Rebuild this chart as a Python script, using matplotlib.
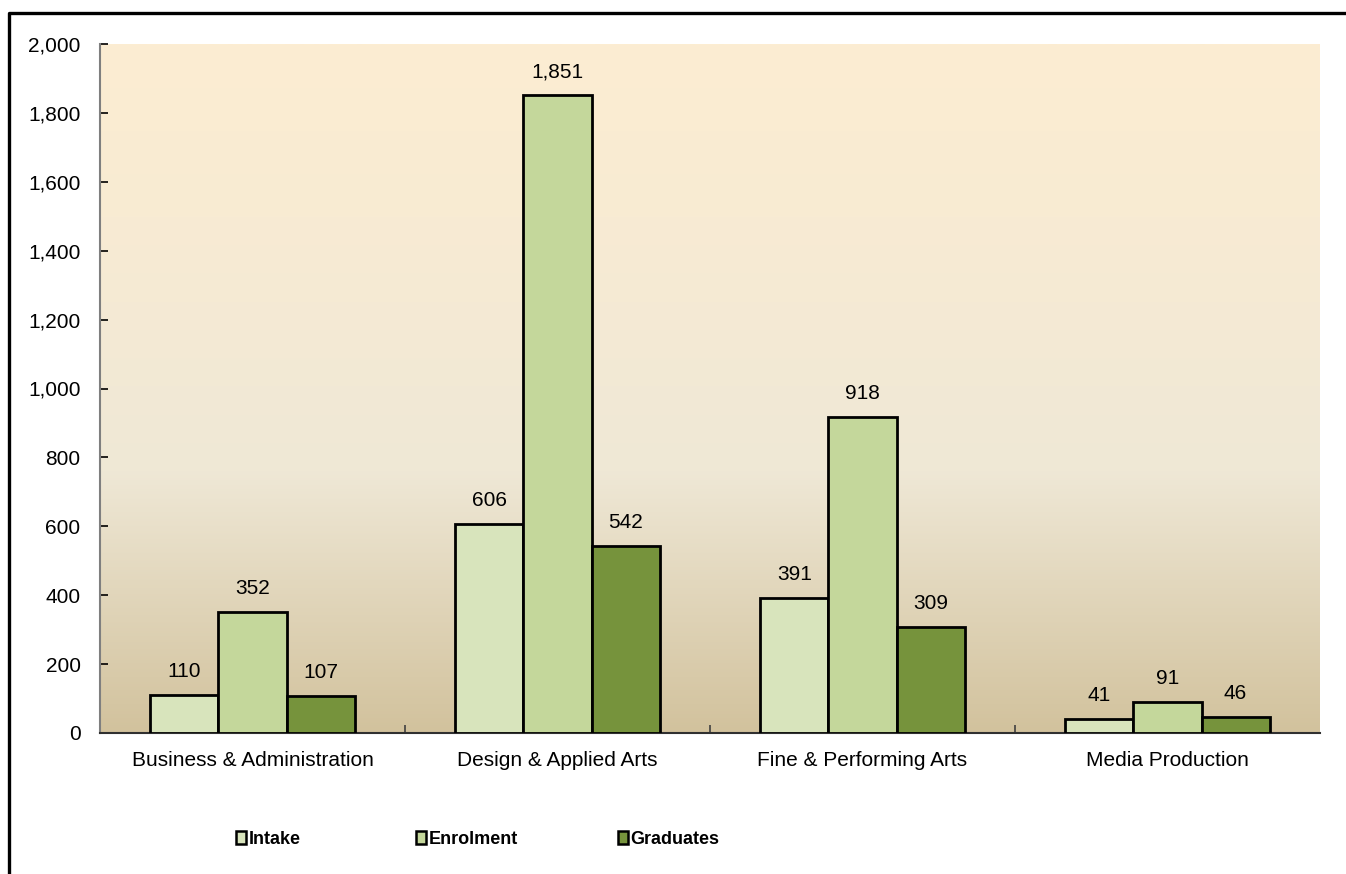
import numpy as np
import matplotlib
matplotlib.use("Agg")
import matplotlib.pyplot as plt
from matplotlib.patches import Patch
from matplotlib.lines import Line2D
from matplotlib.colors import LinearSegmentedColormap
from matplotlib.ticker import FuncFormatter, MultipleLocator

categories = ["Business & Administration", "Design & Applied Arts",
              "Fine & Performing Arts", "Media Production"]
series_names = ["Intake", "Enrolment", "Graduates"]
intake = [110, 606, 391, 41]
enrolment = [352, 1851, 918, 91]
graduates = [107, 542, 309, 46]
series_colors = ["#D8E4BC", "#C4D79B", "#76933C"]

plt.rcParams["font.family"] = ["Liberation Sans", "DejaVu Sans"]

fig = plt.figure(figsize=(13.46, 8.74), dpi=100)
ax = fig.add_axes([100 / 1346, 1 - 733 / 874, 1220 / 1346, 689 / 874])

# warm vertical gradient behind the plot area
grad_cmap = LinearSegmentedColormap.from_list(
    "warm", [(0.0, "#D2C29D"), (0.38, "#EFE8D6"), (0.75, "#F8EBD3"), (1.0, "#FCEDD2")])
ax.imshow(np.linspace(0, 1, 256).reshape(-1, 1), cmap=grad_cmap, origin="lower",
          extent=[-0.5, len(categories) - 0.5, 0, 2000], aspect="auto", zorder=0)

x = np.arange(len(categories))
width = 0.223
all_series = [intake, enrolment, graduates]
for i, (vals, col, name) in enumerate(zip(all_series, series_colors, series_names)):
    pos = x + (i - 1) * width
    bars = ax.bar(pos, vals, width, color=col, edgecolor="black", linewidth=2.0,
                  label=name, zorder=3)
    for b, v in zip(bars, vals):
        ax.annotate(f"{v:,}", (b.get_x() + b.get_width() / 2, v),
                    xytext=(0, 10), textcoords="offset points",
                    ha="center", va="bottom", fontsize=15)

ax.set_xlim(-0.5, len(categories) - 0.5)
ax.set_ylim(0, 2000)
ax.yaxis.set_major_locator(MultipleLocator(200))
ax.yaxis.set_major_formatter(FuncFormatter(lambda v, p: f"{int(v):,}"))
ax.tick_params(axis="y", direction="in", length=6, width=1.2, labelsize=15, pad=14)

# category labels centred, tick marks on category boundaries
ax.set_xticks(x)
ax.set_xticklabels(categories, fontsize=15)
ax.tick_params(axis="x", which="major", length=0, pad=13)
ax.set_xticks(np.arange(0.5, len(categories) - 0.5, 1.0), minor=True)
ax.tick_params(axis="x", which="minor", direction="in", length=6, width=1.2,
               color="#404040")

for s in ["top", "right"]:
    ax.spines[s].set_visible(False)
ax.spines["left"].set_color("#7F7F7F")
ax.spines["left"].set_linewidth(1.5)
ax.spines["bottom"].set_color("#303030")
ax.spines["bottom"].set_linewidth(1.5)

# legend entries laid out along the bottom of the chart
legend_x = [236, 416, 618]
for name, col, lx in zip(series_names, series_colors, legend_x):
    fig.legend([Patch(facecolor=col, edgecolor="black", linewidth=1.8)], [name],
               loc="center left", bbox_to_anchor=(lx / 1346, 1 - 839 / 874),
               frameon=False, borderpad=0, borderaxespad=0,
               handlelength=0.55, handleheight=0.75, handletextpad=0.15,
               prop={"weight": "bold", "size": 13})

# outer chart frame
fig.add_artist(Line2D([9 / 1346, 9 / 1346, 1.0], [0.0, 1 - 13 / 874, 1 - 13 / 874],
                      transform=fig.transFigure, color="black", linewidth=2.4))

fig.savefig("out.png", dpi=100)
